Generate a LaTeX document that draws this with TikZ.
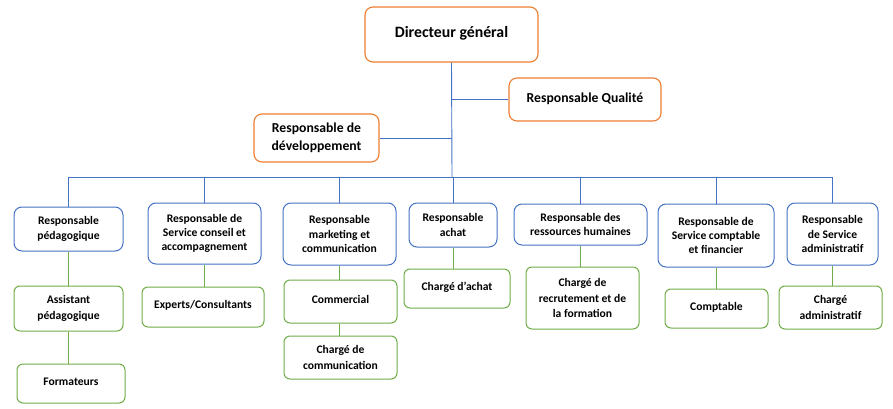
\documentclass[tikz,border=0pt]{standalone}
\usepackage{fontspec}
\setmainfont{Carlito}
\definecolor{orgC}{HTML}{ED7D31}
\definecolor{bluC}{HTML}{4472C4}
\definecolor{grnC}{HTML}{70AD47}
\begin{document}
\begin{tikzpicture}[x=1pt,y=-1pt,
  base/.style={draw, fill=white, align=center, inner sep=0pt, font=\bfseries},
  topbox/.style={base, draw=orgC, line width=1.1pt, rounded corners=8pt},
  midbox/.style={base, draw=bluC, line width=1pt, rounded corners=8pt},
  lowbox/.style={base, draw=grnC, line width=1pt, rounded corners=6pt},
  bline/.style={draw=bluC, line width=0.9pt},
  gline/.style={draw=grnC, line width=0.9pt},
  sz/.style 2 args={minimum width=#1pt, minimum height=#2pt}
]
\useasboundingbox (0,0) rectangle (893,409);
\fill[white] (0,0) rectangle (893,409);

% top level
\node[topbox, sz={173}{55}, font=\bfseries\fontsize{15.8}{19}\selectfont] (dg) at (451.5,34.5) {\raisebox{4.5pt}{Directeur général}};
\node[topbox, sz={152}{43}, font=\bfseries\fontsize{13.7}{18.3}\selectfont] (qual) at (585,99.5) {\raisebox{4.5pt}{Responsable Qualité}};
\node[topbox, sz={125}{48}, font=\bfseries\fontsize{13.7}{18.3}\selectfont] (dev) at (316.5,138) {Responsable de\\développement};

% middle level
\tikzset{mf/.style={font=\bfseries\fontsize{11.6}{14.3}\selectfont}}
\node[midbox, mf, sz={109}{44}] (r1) at (68.5,229) {Responsable\\pédagogique};
\node[midbox, mf, sz={113}{61}] (r2) at (204.5,233.5) {Responsable de\\Service conseil et\\accompagnement};
\node[midbox, mf, sz={113}{62}] (r3) at (339.5,234) {Responsable\\marketing et\\communication};
\node[midbox, mf, sz={88}{44}] (r4) at (453,225) {Responsable\\achat};
\node[midbox, mf, sz={133}{41}] (r5) at (580.5,224.5) {Responsable des\\ressources humaines};
\node[midbox, mf, sz={116}{63}] (r6) at (716,235.5) {Responsable de\\Service comptable\\et financier};
\node[midbox, mf, sz={91}{62}] (r7) at (832.5,234) {Responsable\\de Service\\administratif};

% low level
\tikzset{lf/.style={font=\bfseries\fontsize{11.6}{15.5}\selectfont}}
\node[lowbox, lf, sz={109}{45}] (g1a) at (68.5,308.5) {Assistant\\pédagogique};
\node[lowbox, lf, sz={108}{39}] (g1b) at (71,383.5) {\raisebox{4.5pt}{Formateurs}};
\node[lowbox, lf, sz={122}{40}] (g2) at (203,307) {\raisebox{4.5pt}{Experts/Consultants}};
\node[lowbox, lf, sz={113}{43}] (g3a) at (340.5,301.5) {\raisebox{4.5pt}{Commercial}};
\node[lowbox, lf, sz={113}{43}] (g3b) at (340.5,357.5) {Chargé de\\communication};
\node[lowbox, lf, sz={106}{39}] (g4) at (457,288.5) {\raisebox{4.5pt}{Chargé d’achat}};
\node[lowbox, lf, sz={113}{62}] (g5) at (582.5,298) {Chargé de\\recrutement et de\\la formation};
\node[lowbox, lf, sz={103}{39}] (g6) at (716.5,308.5) {\raisebox{4.5pt}{Comptable}};
\node[lowbox, lf, sz={103}{43}] (g7) at (830.5,307.5) {Chargé\\administratif};

% blue connectors
\coordinate (bus) at (452,177);
\draw[bline] (dg.south) -- (bus);
\draw[bline] (dg.south |- qual.west) -- (qual.west);
\draw[bline] (dg.south |- dev.east) -- (dev.east);
\draw[bline] (r1.north |- bus) -- (r7.north |- bus);
\foreach \r in {r1,r2,r3,r4,r5,r6,r7}{
  \draw[bline] (\r.north |- bus) -- (\r.north);
}
% green connectors
\draw[gline] (r1.south) -- (g1a.north);
\draw[gline] (g1a.south) -- (g1a.south |- g1b.north);
\draw[gline] (r2.south) -- (r2.south |- g2.north);
\draw[gline] (r3.south) -- (r3.south |- g3a.north);
\draw[gline] (r3.south |- g3a.south) -- (r3.south |- g3b.north);
\draw[gline] (r4.south) -- (r4.south |- g4.north);
\draw[gline] (r5.south) -- (r5.south |- g5.north);
\draw[gline] (r6.south) -- (r6.south |- g6.north);
\draw[gline] (r7.south) -- (r7.south |- g7.north);
\end{tikzpicture}
\end{document}
